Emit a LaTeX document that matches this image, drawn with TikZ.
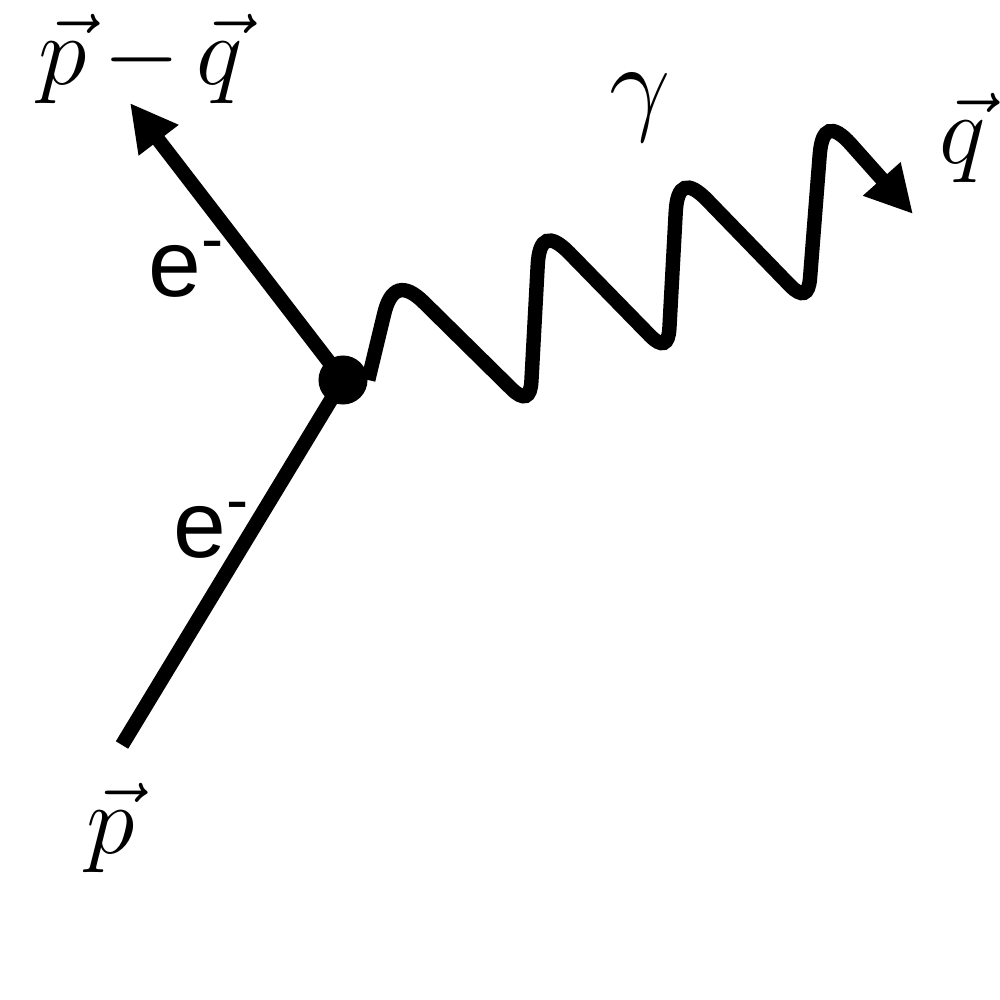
\documentclass[tikz,border=0pt]{standalone}
\usepackage{fix-cm}
\usepackage{fontspec}
\newfontfamily\sansf{Liberation Sans}
\usetikzlibrary{arrows.meta,calc}
\begin{document}
\begin{tikzpicture}[x=0.01cm,y=-0.01cm,
  thick line/.style={line width=4.1pt},
  tipped/.style={-{Triangle[length=0.47cm,width=0.47cm]}},
  mathlbl/.style={font=\fontsize{28}{31}\selectfont, inner sep=0pt, anchor=base, text height=0.75cm},
  elbl/.style={font=\sansf\fontsize{27}{30}\selectfont, inner sep=0pt, anchor=base west},
  vdot/.style={circle, fill=black, minimum size=0.49cm, inner sep=0pt}]
\useasboundingbox (0,0) rectangle (1000,1000);
\node[vdot] (v) at (343,380) {};
\coordinate (pin) at (122,745);
\coordinate (pout) at (130,103);
\coordinate (P1) at (394,273);
\coordinate (T1) at (530,407);
\coordinate (P2) at (540,223);
\coordinate (T2) at (668,354);
\coordinate (P3) at (678,170);
\coordinate (T3) at (808,304);
\coordinate (P4) at (823,113);
\coordinate (qtip) at (913,214);
\draw[thick line] (pin) -- (v.center);
\draw[thick line,tipped] (v.center) -- (pout);
\draw[thick line,tipped] (v.east)
 -- ($(P1)!0.42cm!(v.east)$) .. controls ($(P1)!0.14cm!(v.east)$) and ($(P1)!0.14cm!(T1)$) .. ($(P1)!0.42cm!(T1)$)
 -- ($(T1)!0.26cm!(P1)$) .. controls ($(T1)!0.087cm!(P1)$) and ($(T1)!0.087cm!(P2)$) .. ($(T1)!0.26cm!(P2)$)
 -- ($(P2)!0.42cm!(T1)$) .. controls ($(P2)!0.14cm!(T1)$) and ($(P2)!0.14cm!(T2)$) .. ($(P2)!0.42cm!(T2)$)
 -- ($(T2)!0.26cm!(P2)$) .. controls ($(T2)!0.087cm!(P2)$) and ($(T2)!0.087cm!(P3)$) .. ($(T2)!0.26cm!(P3)$)
 -- ($(P3)!0.42cm!(T2)$) .. controls ($(P3)!0.14cm!(T2)$) and ($(P3)!0.14cm!(T3)$) .. ($(P3)!0.42cm!(T3)$)
 -- ($(T3)!0.26cm!(P3)$) .. controls ($(T3)!0.087cm!(P3)$) and ($(T3)!0.087cm!(P4)$) .. ($(T3)!0.26cm!(P4)$)
 -- ($(P4)!0.42cm!(T3)$) .. controls ($(P4)!0.14cm!(T3)$) and ($(P4)!0.14cm!(qtip)$) .. ($(P4)!0.42cm!(qtip)$)
 -- (qtip);
\node[mathlbl] (lpq) at (141,84) {$\vec{p}\mkern-1mu-\mkern-1mu\vec{q}$};
\node[mathlbl] (lp) at (111,853) {$\vec{p}$};
\node[mathlbl] (lq) at (963,163) {$\vec{q}$};
\node[mathlbl,font=\fontsize{31}{34}\selectfont] (lg) at (640,120) {$\gamma$};
\node[elbl] (le1) at (148,296) {e\textsuperscript{-}};
\node[elbl] (le2) at (173,557) {e\textsuperscript{-}};
\end{tikzpicture}
\end{document}
